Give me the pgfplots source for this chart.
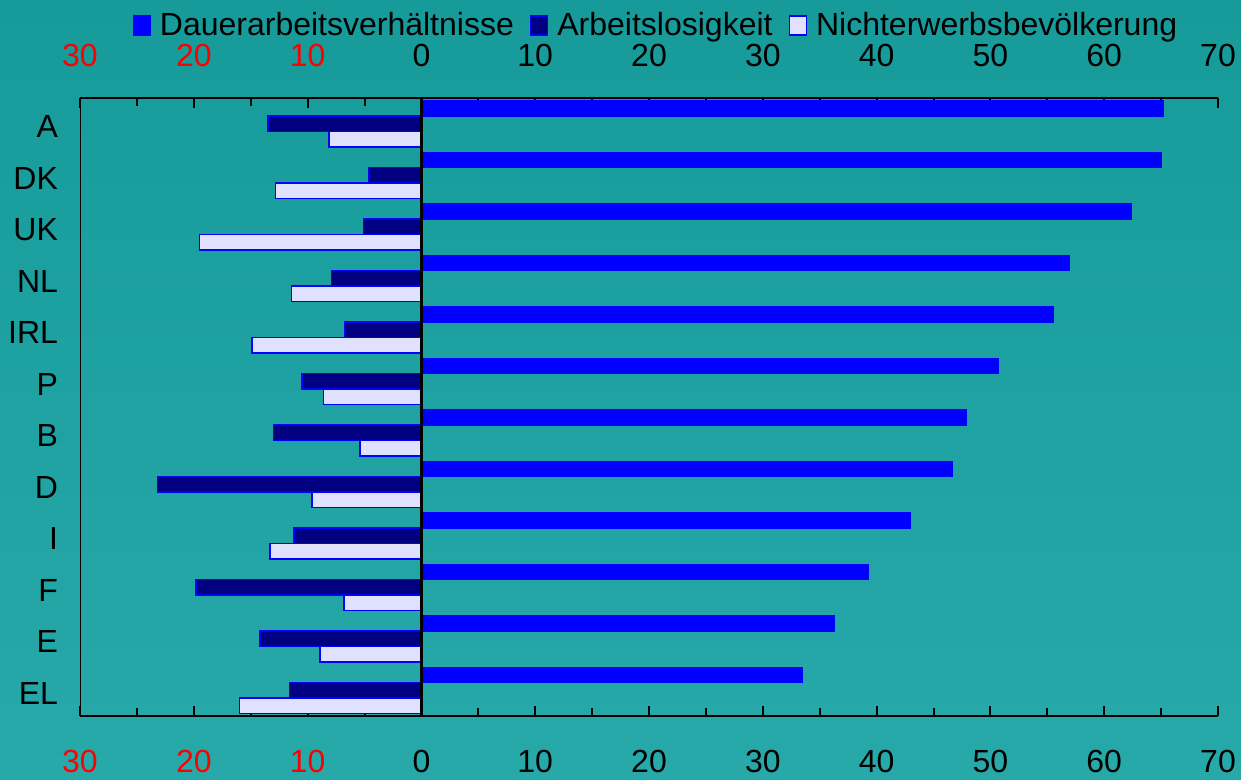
\documentclass[border=0pt]{standalone}
\usepackage{fontspec}
\setmainfont{Liberation Sans}
\usepackage{pgfplots}
\pgfplotsset{compat=1.18}
\definecolor{bgtop}{RGB}{22,154,154}
\definecolor{bgbot}{RGB}{40,169,169}
\definecolor{navy}{RGB}{0,0,128}
\definecolor{lav}{RGB}{224,224,255}
\definecolor{bblue}{RGB}{0,0,255}
\newcommand{\lf}{\fontsize{16}{18}\selectfont}
\begin{document}
\begin{tikzpicture}
\shade[top color=bgtop,bottom color=bgbot] (0,0) rectangle (620.5pt,390pt);
\path[use as bounding box] (0,0) rectangle (620.5pt,390pt);
\begin{axis}[
  at={(40pt,32pt)}, anchor=south west, scale only axis,
  width=569pt, height=309pt,
  xmin=-30, xmax=70, ymin=-0.5, ymax=11.5, y dir=reverse,
  axis line style={draw=none},
  xtick={-30,-20,...,70},
  xticklabels={\textcolor{red}{30},\textcolor{red}{20},\textcolor{red}{10},0,10,20,30,40,50,60,70},
  minor x tick num=1,
  tick align=inside,
  major tick length=5pt, minor tick length=4pt,
  x tick style={black, line width=1pt},
  xticklabel style={font=\lf, yshift=-13.5pt},
  ytick={0,...,11},
  yticklabels={A,DK,UK,NL,IRL,P,B,D,I,F,E,EL},
  y tick style={draw=none},
  yticklabel style={font=\lf, anchor=east, xshift=-7.5pt, yshift=-1.5pt},
  legend style={at={(0.507,1.117)}, anchor=center, draw=none, fill=none,
    font=\lf, legend columns=3,
    /tikz/every even column/.append style={column sep=6pt},
    legend cell align=left},
]
\addplot[xbar, bar width=0.3, bar shift=-0.3, fill=bblue, draw=bblue, line width=0.4pt,
  legend image code/.code={\draw[fill=bblue,draw=bblue,line width=0.75pt] (0pt,-4.75pt) rectangle (8.5pt,4.75pt); \path (11pt,0pt);}]
  coordinates {(65.2,0) (65.0,1) (62.4,2) (56.9,3) (55.5,4) (50.7,5) (47.9,6) (46.7,7) (43.0,8) (39.3,9) (36.3,10) (33.5,11)};
\addlegendentry{Dauerarbeitsverhältnisse}
\addplot[xbar, bar width=0.3, bar shift=0, fill=navy, draw=bblue, line width=0.75pt,
  legend image code/.code={\draw[fill=navy,draw=bblue,line width=0.75pt] (0pt,-4.75pt) rectangle (8.5pt,4.75pt); \path (11pt,0pt);}]
  coordinates {(-13.5,0) (-4.6,1) (-5.1,2) (-7.9,3) (-6.7,4) (-10.5,5) (-13.0,6) (-23.2,7) (-11.2,8) (-19.8,9) (-14.2,10) (-11.6,11)};
\addlegendentry{Arbeitslosigkeit}
\addplot[xbar, bar width=0.3, bar shift=0.3, fill=lav, draw=bblue, line width=0.75pt,
  legend image code/.code={\draw[fill=lav,draw=bblue,line width=0.75pt] (0pt,-4.75pt) rectangle (8.5pt,4.75pt); \path (11pt,0pt);}]
  coordinates {(-8.1,0) (-12.8,1) (-19.5,2) (-11.4,3) (-14.9,4) (-8.6,5) (-5.4,6) (-9.6,7) (-13.3,8) (-6.8,9) (-8.9,10) (-16.0,11)};
\addlegendentry{Nichterwerbsbevölkerung}
\draw[black, line width=1.2pt] (axis cs:-30,-0.5) -- (axis cs:-30,11.5);
\draw[black, line width=1.2pt] (axis cs:-30,-0.5) -- (axis cs:70,-0.5);
\draw[black, line width=1.2pt] (axis cs:-30,11.5) -- (axis cs:70,11.5);
\draw[black, line width=1.5pt] (axis cs:0,-0.5) -- (axis cs:0,11.5);
\end{axis}
\begin{axis}[
  at={(40pt,32pt)}, anchor=south west, scale only axis,
  width=569pt, height=309pt,
  xmin=-30, xmax=70, ymin=-0.5, ymax=11.5,
  axis line style={draw=none},
  xtick={-30,-20,...,70},
  xticklabels={\textcolor{red}{30},\textcolor{red}{20},\textcolor{red}{10},0,10,20,30,40,50,60,70},
  xticklabel pos=upper,
  x tick style={draw=none},
  xticklabel style={font=\lf, yshift=12pt},
  ytick=\empty,
]
\end{axis}
\end{tikzpicture}
\end{document}
